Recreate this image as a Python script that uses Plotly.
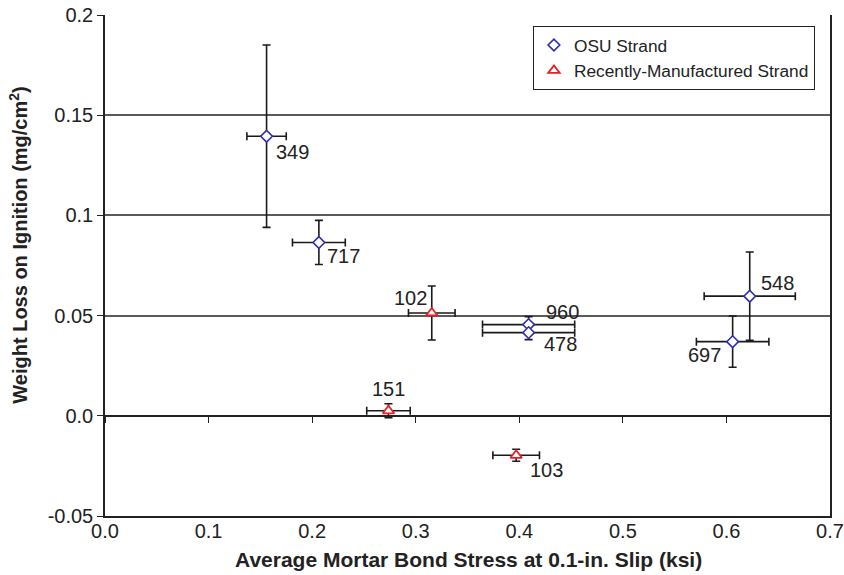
import plotly.graph_objects as go

# OSU strand samples
osu_ids = ["349", "717", "960", "478", "548", "697"]
osu_stress = [0.156, 0.2065, 0.409, 0.409, 0.6225, 0.606]
osu_stress_err = [0.019, 0.0255, 0.0445, 0.0445, 0.044, 0.035]
osu_wloi = [0.1395, 0.0865, 0.0455, 0.0415, 0.0597, 0.037]
osu_wloi_err = [0.0455, 0.011, 0.004, 0.0035, 0.022, 0.0128]

# Recently-manufactured strand samples
new_ids = ["102", "151", "103"]
new_stress = [0.3155, 0.2737, 0.397]
new_stress_err = [0.0225, 0.021, 0.0225]
new_wloi = [0.0513, 0.0025, -0.0197]
new_wloi_err = [0.0135, 0.0035, 0.003]

x_ticks = [0.0, 0.1, 0.2, 0.3, 0.4, 0.5, 0.6, 0.7]
x_tick_labels = ["0.0", "0.1", "0.2", "0.3", "0.4", "0.5", "0.6", "0.7"]
y_ticks = [-0.05, 0.0, 0.05, 0.1, 0.15, 0.2]
y_tick_labels = ["-0.05", "0.0", "0.05", "0.1", "0.15", "0.2"]

x_title = "Average Mortar Bond Stress at 0.1-in. Slip (ksi)"
y_title = "Weight Loss on Ignition (mg/cm<sup>2</sup>)"

FONT = "Liberation Sans, Arial, Helvetica, sans-serif"
INK = "#222222"
BAR_COLOR = "#1a1a1a"

# label placement per sample: (xanchor, xshift, yanchor, yshift)
label_place = {
    "349": ("left", 7, "middle", -16),
    "717": ("left", 6, "middle", -14),
    "960": ("left", 15, "middle", 13),
    "478": ("left", 13, "middle", -11),
    "548": ("left", 9, "middle", 13),
    "697": ("right", -10, "middle", -13),
    "102": ("right", -3, "middle", 15),
    "151": ("center", 0, "middle", 22),
    "103": ("left", 12, "middle", -15),
}

fig = go.Figure()

fig.add_trace(go.Scatter(
    x=osu_stress, y=osu_wloi, mode="markers", name="OSU Strand",
    marker=dict(symbol="diamond", size=9, color="white",
                line=dict(color="#2e2ea8", width=1.6)),
    error_x=dict(type="data", array=osu_stress_err, color=BAR_COLOR, thickness=1.6, width=4),
    error_y=dict(type="data", array=osu_wloi_err, color=BAR_COLOR, thickness=1.6, width=4),
))
fig.add_trace(go.Scatter(
    x=new_stress, y=new_wloi, mode="markers", name="Recently-Manufactured Strand",
    marker=dict(symbol="triangle-up", size=10, color="white",
                line=dict(color="#ee1c24", width=1.8)),
    error_x=dict(type="data", array=new_stress_err, color=BAR_COLOR, thickness=1.6, width=4),
    error_y=dict(type="data", array=new_wloi_err, color=BAR_COLOR, thickness=1.6, width=4),
))

# overlay axis that carries the zero line with its downward tick marks
fig.add_trace(go.Scatter(x=[None], y=[None], xaxis="x2", showlegend=False, hoverinfo="skip"))

annotations = []
for ids, xs, ys in ((osu_ids, osu_stress, osu_wloi), (new_ids, new_stress, new_wloi)):
    for sid, xv, yv in zip(ids, xs, ys):
        xa, xs_, ya, ys_ = label_place[sid]
        annotations.append(dict(
            x=xv, y=yv, xref="x", yref="y", text=sid, showarrow=False,
            xanchor=xa, yanchor=ya, xshift=xs_, yshift=ys_,
            font=dict(family=FONT, size=20, color=INK),
        ))

# axis titles
annotations.append(dict(
    x=0.502, y=-0.086, xref="paper", yref="paper", text=f"<b>{x_title}</b>",
    showarrow=False, xanchor="center", yanchor="middle",
    font=dict(family=FONT, size=21, color=INK),
))
annotations.append(dict(
    x=-0.119, y=0.541, xref="paper", yref="paper", text=f"<b>{y_title}</b>",
    showarrow=False, xanchor="center", yanchor="middle", textangle=-90,
    font=dict(family=FONT, size=20, color=INK),
))

fig.update_layout(
    width=844, height=575,
    margin=dict(l=105, r=14, t=15, b=59, autoexpand=False),
    paper_bgcolor="white", plot_bgcolor="white",
    font=dict(family=FONT, size=20, color=INK),
    showlegend=True,
    legend=dict(
        x=0.590, y=0.978, xanchor="left", yanchor="top",
        bgcolor="white", bordercolor=INK, borderwidth=1.2,
        font=dict(family=FONT, size=17.3, color=INK),
        tracegroupgap=0, itemsizing="trace", itemwidth=30,
    ),
    xaxis=dict(
        range=[0, 0.7], tickvals=x_ticks, ticktext=x_tick_labels, automargin=False,
        showgrid=False, zeroline=False, showline=True, linecolor=INK, linewidth=1.5,
        ticks="", ticklabelstandoff=-4,
    ),
    xaxis2=dict(
        range=[0, 0.7], overlaying="x", anchor="free", position=0.2, side="bottom",
        tickvals=x_ticks, showticklabels=False, ticks="outside", ticklen=6,
        tickcolor=INK, tickwidth=1.3, automargin=False,
        showline=True, linecolor=INK, linewidth=1.5, showgrid=False, zeroline=False,
    ),
    yaxis=dict(
        range=[-0.05, 0.2], tickvals=y_ticks, ticktext=y_tick_labels, automargin=False,
        showgrid=True, gridcolor="#5a5a5a", gridwidth=1.5, zeroline=False,
        showline=True, linecolor=INK, linewidth=1.5, mirror=True,
        ticks="outside", ticklen=6, tickcolor=INK, tickwidth=1.3,
    ),
    annotations=annotations,
)

fig.write_html("out.html")
